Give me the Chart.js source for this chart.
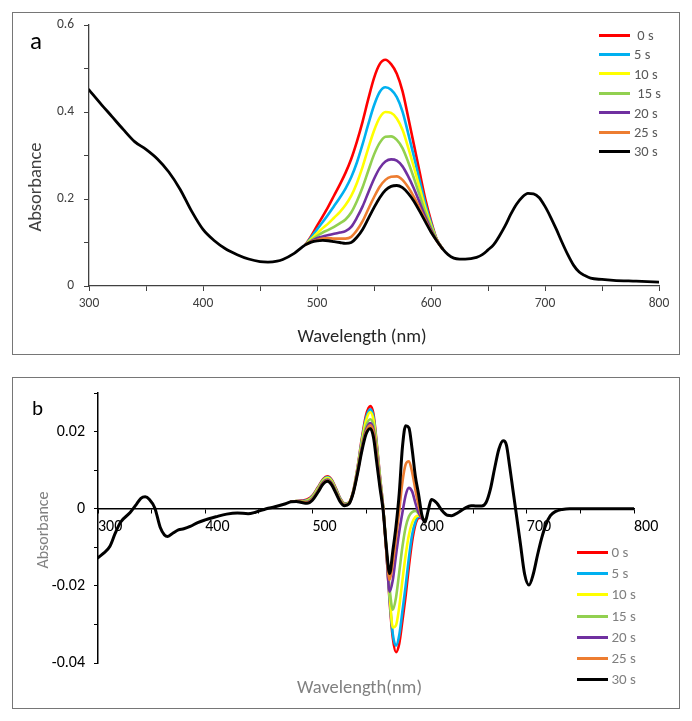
<!DOCTYPE html>
<html><head><meta charset="utf-8">
<script src="https://cdn.jsdelivr.net/npm/chart.js@4/dist/chart.umd.min.js"></script>
<style>
html,body{margin:0;padding:0;background:#fff;}
body{width:692px;height:721px;position:relative;overflow:hidden;font-family:Carlito,Calibri,Lato,sans-serif;}
.frame{position:absolute;box-sizing:border-box;border:1px solid #767676;}
canvas{position:absolute;left:0;}
.txt{position:absolute;white-space:pre;line-height:1;}
.ctr{transform:translate(-50%,-50%);}
.rot{transform:translate(-50%,-50%) rotate(-90deg);}
.row{position:absolute;height:20px;display:flex;align-items:center;white-space:pre;line-height:1;}
.row i{display:inline-block;height:3px;}
</style></head>
<body>
<div class="frame" style="left:12px;top:12px;width:668px;height:343px"></div>
<div class="frame" style="left:12px;top:377px;width:668px;height:332px"></div>
<canvas id="cA" width="692" height="360" style="top:0"></canvas>
<canvas id="cB" width="692" height="361" style="top:360px"></canvas>
<div class="txt" style="left:30px;top:28px;font-size:25px;color:#000">a</div>
<div class="txt" style="left:32px;top:398px;font-size:21px;color:#000">b</div>
<div class="txt rot" style="left:35px;top:186.5px;font-size:18.5px;color:#404040">Absorbance</div>
<div class="txt ctr" style="left:362px;top:336px;font-size:18.5px;color:#262626">Wavelength (nm)</div>
<div class="txt rot" style="left:43px;top:529.5px;font-size:16px;color:#808080">Absorbance</div>
<div class="txt ctr" style="left:359.5px;top:687px;font-size:18.5px;color:#808080">Wavelength(nm)</div>
<div id="legA"></div>
<div id="legB"></div>
<script>
// ---------- series ----------
const seriesNames = ['0 s','5 s','10 s','15 s','20 s','25 s','30 s'];
const legendLabelsA = [' 0 s','5 s','10 s',' 15 s','20 s','25 s','30 s'];
const legendLabelsB = ['0 s','5 s','10 s','15 s','20 s','25 s','30 s'];
const seriesColors = ['#ff0000','#00b0f0','#ffff00','#92d050','#7030a0','#ed7d31','#000000'];

// ---------- panel a ----------
const aXTickLabels = [300,400,500,600,700,800];
const aYTickLabels = [0,0.2,0.4,0.6];
const aWavelength30 = [300,310,320,330,340,350,360,370,380,390,400,410,420,430,440,450,457,465,470,480,
  490,495,500,505,510,515,520,525,530,535,540,545,550,555,560,565,570,575,580,585,590,595,600,605,610,
  615,620,625,630,640,645,650,655,660,665,670,675,680,685,690,695,700,705,710,715,720,725,730,735,740,
  750,760,780,800];
const aAbs30 = [0.451,0.42,0.39,0.36,0.332,0.314,0.292,0.262,0.222,0.172,0.130,0.104,0.085,0.072,0.062,0.056,0.055,0.057,0.061,0.075,
  0.095,0.101,0.104,0.105,0.104,0.102,0.100,0.098,0.100,0.112,0.130,0.155,0.180,0.203,0.220,0.229,0.231,0.226,0.213,0.195,0.172,0.148,0.124,0.104,0.086,
  0.072,0.064,0.062,0.062,0.066,0.072,0.083,0.095,0.115,0.138,0.165,0.188,0.204,0.213,0.212,0.203,0.183,0.158,0.130,0.100,0.072,0.048,0.032,0.024,0.018,
  0.015,0.013,0.011,0.009];
const aWavelengthMix = [490,495,500,505,510,515,520,525,530,535,540,545,550,555,560,565,570,575,580,585,590,595,600,605,610];
const aAbs0  = [0.095,0.115,0.138,0.160,0.183,0.208,0.233,0.260,0.292,0.332,0.378,0.430,0.478,0.510,0.520,0.510,0.488,0.448,0.388,0.325,0.262,0.200,0.150,0.108,0.086];
const aAbs5  = [0.095,0.112,0.130,0.147,0.165,0.184,0.203,0.224,0.250,0.284,0.326,0.372,0.415,0.446,0.457,0.451,0.434,0.401,0.351,0.298,0.243,0.189,0.145,0.107,0.086];
const aAbs10 = [0.095,0.108,0.121,0.133,0.144,0.157,0.170,0.186,0.207,0.237,0.274,0.317,0.357,0.387,0.400,0.398,0.385,0.359,0.318,0.273,0.226,0.179,0.140,0.106,0.086];
const aAbs15 = [0.095,0.105,0.115,0.123,0.129,0.136,0.144,0.153,0.169,0.195,0.227,0.265,0.302,0.329,0.343,0.344,0.336,0.317,0.285,0.248,0.209,0.169,0.135,0.106,0.086];
const aAbs20 = [0.095,0.103,0.110,0.114,0.117,0.120,0.123,0.126,0.136,0.157,0.183,0.215,0.246,0.271,0.286,0.291,0.288,0.275,0.252,0.224,0.192,0.159,0.130,0.105,0.086];
const aAbs25 = [0.095,0.102,0.106,0.109,0.110,0.109,0.109,0.109,0.113,0.128,0.149,0.177,0.204,0.228,0.244,0.251,0.252,0.244,0.227,0.205,0.179,0.152,0.126,0.104,0.086];

// ---------- panel b ----------
const bXTickLabels = [300,400,500,600,700,800];
const bYTickLabels = [-0.04,-0.02,0,0.02];
const bWavelength30 = [300,305,311,316,321,330,336,340,344,348,
  353,358,362,365,370,375,380,386,393,400,
  410,420,430,440,447,457,465,475,480,485,
  490,495,500,505,510,514,518,522,526,530,
  534,538,542,546,550,554,557,560,563,566,
  569,572,575,578,581,584,587,590,593,596,
  599,602,605,608,611,616,621,626,630,636,
  642,648,653,658,662,666,670,674,678,681,
  684,687,690,694,698,702,706,710,714,718,
  722,727,733,740,760,800];
const bAbs30 = [-0.0127,-0.0116,-0.0098,-0.0064,-0.0035,-0.0010,0.0012,0.0027,0.0031,0.0024,
  0.0002,-0.0048,-0.0068,-0.0072,-0.0063,-0.0055,-0.0052,-0.0046,-0.0036,-0.0029,
  -0.0021,-0.0014,-0.0011,-0.0013,-0.0009,0.0000,0.0005,0.0013,0.0018,0.0019,
  0.0016,0.0014,0.0022,0.0042,0.0064,0.0071,0.0062,0.0040,0.0018,0.0008,
  0.0012,0.0040,0.0090,0.0148,0.0193,0.0208,0.0185,0.0120,0.0055,-0.0005,
  -0.0100,-0.0168,-0.0110,-0.0045,0.0040,0.0160,0.0215,0.0210,0.0155,0.0085,
  0.0038,-0.0015,-0.0035,-0.0005,0.0024,0.0015,-0.0005,-0.0017,-0.0018,-0.0010,
  0.0001,0.0008,0.0007,0.0007,0.0016,0.0050,0.0105,0.0155,0.0176,0.0165,
  0.0110,0.0050,-0.0010,-0.0090,-0.0170,-0.0198,-0.0170,-0.0120,-0.0075,-0.0040,
  -0.0018,-0.0007,-0.0002,0.0000,0.0000,0.0000];
const bWavelengthMix = [480,485,490,495,500,505,510,514,518,522,526,530,534,538,542,546,550,554,557,560,563,566,569,572,575,578,581,584,587,590,593,596,599,602,605];
const bAbs0  = [0.0018,0.0020,0.0021,0.0024,0.0034,0.0055,0.0077,0.0084,0.0075,0.0052,0.0027,0.0014,0.0016,0.0045,0.0105,0.0180,0.0242,0.0266,0.0245,0.0170,0.0085,0.0005,-0.0110,-0.0240,-0.0335,-0.0372,-0.0350,-0.0290,-0.0225,-0.0150,-0.0085,-0.0042,-0.0024,-0.0023,-0.0033];
const bAbs5  = [0.0018,0.0020,0.0020,0.0022,0.0032,0.0053,0.0075,0.0082,0.0073,0.0050,0.0026,0.0013,0.0015,0.0044,0.0102,0.0175,0.0235,0.0258,0.0238,0.0165,0.0082,0.0004,-0.0108,-0.0232,-0.0325,-0.0355,-0.0328,-0.0265,-0.0200,-0.0128,-0.0068,-0.0035,-0.0021,-0.0022,-0.0033];
const bAbs10 = [0.0018,0.0020,0.0019,0.0021,0.0030,0.0051,0.0073,0.0080,0.0071,0.0048,0.0024,0.0012,0.0015,0.0043,0.0100,0.0170,0.0228,0.0250,0.0230,0.0160,0.0078,0.0003,-0.0105,-0.0220,-0.0308,-0.0302,-0.0255,-0.0185,-0.0120,-0.0068,-0.0037,-0.0022,-0.0018,-0.0022,-0.0033];
const bAbs15 = [0.0018,0.0019,0.0018,0.0019,0.0028,0.0048,0.0070,0.0077,0.0068,0.0046,0.0022,0.0011,0.0014,0.0042,0.0097,0.0162,0.0213,0.0232,0.0215,0.0150,0.0072,0.0002,-0.0102,-0.0205,-0.0262,-0.0230,-0.0165,-0.0098,-0.0048,-0.0020,-0.0009,-0.0006,-0.0012,-0.0022,-0.0033];
const bAbs20 = [0.0018,0.0019,0.0017,0.0017,0.0026,0.0046,0.0068,0.0075,0.0066,0.0044,0.0021,0.0010,0.0013,0.0041,0.0094,0.0156,0.0204,0.0222,0.0205,0.0142,0.0067,0.0000,-0.0110,-0.0215,-0.0185,-0.0120,-0.0060,-0.0010,0.0035,0.0054,0.0045,0.0016,-0.0010,-0.0025,-0.0034];
const bAbs25 = [0.0018,0.0019,0.0017,0.0016,0.0024,0.0044,0.0066,0.0073,0.0064,0.0042,0.0020,0.0009,0.0013,0.0041,0.0092,0.0152,0.0199,0.0216,0.0198,0.0135,0.0062,-0.0002,-0.0110,-0.0185,-0.0140,-0.0075,-0.0005,0.0070,0.0115,0.0123,0.0095,0.0050,0.0010,-0.0020,-0.0034];

// ---------- build ----------
const FONT = 'Carlito, Calibri, Lato, sans-serif';
Chart.defaults.font.family = FONT;

function pts(xs, ys){ return xs.map((x,i)=>({x:x, y:ys[i]})); }
function ds(i, xs, ys, width){
  return {label: seriesNames[i], data: pts(xs, ys), borderColor: seriesColors[i], backgroundColor: seriesColors[i],
    borderWidth: width, pointRadius: 0, pointHoverRadius: 0, fill: false, cubicInterpolationMode: 'monotone',
    borderJoinStyle: 'round', borderCapStyle: 'round', order: 6 - i};
}
const near = (arr, v) => arr.some(a => Math.abs(a - v) < 1e-9);

const aSets = [aAbs0, aAbs5, aAbs10, aAbs15, aAbs20, aAbs25];
const aDatasets = aSets.map((ys,i)=>ds(i, aWavelengthMix, ys, 2.6));
aDatasets.push(ds(6, aWavelength30, aAbs30, 2.8));

const bSets = [bAbs0, bAbs5, bAbs10, bAbs15, bAbs20, bAbs25];
const bDatasets = bSets.map((ys,i)=>ds(i, bWavelengthMix, ys, 2.6));
bDatasets.push(ds(6, bWavelength30, bAbs30, 3));

new Chart(document.getElementById('cA'), {
  type: 'line',
  data: {datasets: aDatasets},
  options: {
    responsive: false, animation: false, events: [],
    layout: {padding: {left: 25, top: 25, right: 33, bottom: 13}},
    plugins: {legend: {display: false}, tooltip: {enabled: false}},
    scales: {
      x: {type: 'linear', min: 300, max: 800,
        ticks: {stepSize: 50, autoSkip: false, maxRotation: 0, font: {size: 13.5}, color: '#404040', padding: 5,
          callback: v => near(aXTickLabels, v) ? String(v) : ''},
        grid: {drawOnChartArea: false, drawTicks: true, tickLength: 5, color: '#404040', lineWidth: 1},
        border: {color: '#404040', width: 1.3},
        afterFit: s => { s.height = 61; }},
      y: {type: 'linear', min: 0, max: 0.6,
        ticks: {stepSize: 0.1, autoSkip: false, font: {size: 13.5}, color: '#404040', padding: 10,
          callback: v => near(aYTickLabels, Math.round(v*10)/10) ? (Math.abs(v) < 1e-9 ? '0' : (Math.round(v*10)/10).toFixed(1)) : ''},
        grid: {drawOnChartArea: false, drawTicks: true, tickLength: 5, color: '#404040', lineWidth: 1},
        border: {color: '#404040', width: 1.3},
        afterFit: s => { s.width = 64; }}
    }
  }
});

new Chart(document.getElementById('cB'), {
  type: 'line',
  data: {datasets: bDatasets},
  options: {
    responsive: false, animation: false, events: [],
    layout: {padding: {left: 20, top: 33, right: 58, bottom: 58}},
    plugins: {legend: {display: false}, tooltip: {enabled: false}},
    scales: {
      x: {type: 'linear', min: 300, max: 800, position: {y: 0},
        ticks: {stepSize: 50, autoSkip: false, maxRotation: 0, align: 'start', font: {size: 16}, color: '#000', padding: 5,
          callback: v => near(bXTickLabels, v) ? String(v) : ''},
        grid: {drawOnChartArea: false, drawTicks: true, tickLength: 4, color: '#000', lineWidth: 1},
        border: {color: '#000', width: 1.5}},
      y: {type: 'linear', min: -0.04, max: 0.03,
        ticks: {stepSize: 0.01, autoSkip: false, font: {size: 16}, color: '#000', padding: 9,
          callback: v => { const r = Math.round(v*100)/100; return near(bYTickLabels, r) ? (Math.abs(r) < 1e-9 ? '0' : r.toFixed(2)) : ''; }},
        grid: {drawOnChartArea: false, drawTicks: true, tickLength: 4, color: '#000', lineWidth: 1},
        border: {color: '#000', width: 1.5},
        afterFit: s => { s.width = 78; }}
    }
  }
});

// ---------- legends (HTML text) ----------
function legend(el, labels, x, y0, dy, lineW, gap, size, color){
  labels.forEach((lab, i) => {
    const row = document.createElement('div');
    row.className = 'row';
    row.style.left = x + 'px';
    row.style.top = (y0 + i*dy - 10) + 'px';
    row.style.fontSize = size + 'px';
    row.style.color = color;
    const ln = document.createElement('i');
    ln.style.width = lineW + 'px';
    ln.style.background = seriesColors[i];
    const sp = document.createElement('span');
    sp.style.marginLeft = gap + 'px';
    sp.textContent = lab;
    row.appendChild(ln); row.appendChild(sp);
    el.appendChild(row);
  });
}
legend(document.getElementById('legA'), legendLabelsA, 599, 35, 19.45, 31, 4, 14.5, '#595959');
legend(document.getElementById('legB'), legendLabelsB, 577, 552.7, 21.1, 31, 3.5, 15, '#7f7f7f');
</script>
</body></html>
